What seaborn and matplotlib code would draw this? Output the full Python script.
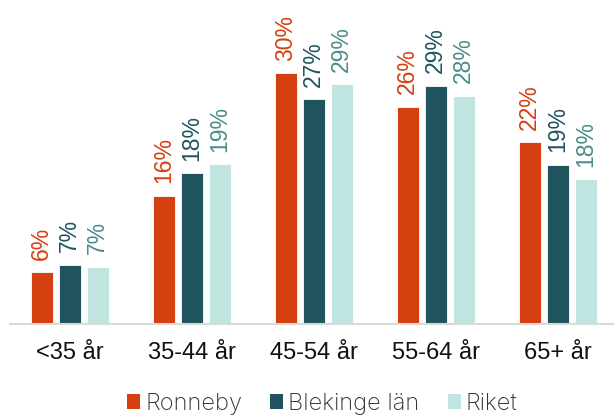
import pandas as pd
import matplotlib.pyplot as plt
import seaborn as sns
from matplotlib.patches import Patch

categories = ["<35 år", "35-44 år", "45-54 år", "55-64 år", "65+ år"]
series = ["Ronneby", "Blekinge län", "Riket"]
ronneby = [6.2, 15.4, 30.1, 26.1, 21.8]
blekinge = [7.1, 18.1, 27.0, 28.6, 19.1]
riket = [6.9, 19.2, 28.8, 27.4, 17.4]
labels_ronneby = ["6%", "16%", "30%", "26%", "22%"]
labels_blekinge = ["7%", "18%", "27%", "29%", "19%"]
labels_riket = ["7%", "19%", "29%", "28%", "18%"]

bar_colors = ["#d63f10", "#1f545e", "#c0e4e0"]
text_colors = ["#d63f10", "#1f545e", "#4a8b89"]

rows = []
for name, vals in zip(series, [ronneby, blekinge, riket]):
    for cat, v in zip(categories, vals):
        rows.append({"Ålder": cat, "Område": name, "Andel": v})
df = pd.DataFrame(rows)

sns.set_style("white")
plt.rcParams["font.family"] = ["Liberation Sans", "DejaVu Sans"]

fig = plt.figure(figsize=(6.14, 4.17), dpi=100)
ax = fig.add_axes([0.016, 0.223, 0.984, 0.777])

sns.barplot(data=df, x="Ålder", y="Andel", hue="Område", hue_order=series,
            palette=bar_colors, saturation=1, width=0.69, gap=0.22, ax=ax,
            edgecolor="white", linewidth=0.6, legend=False)

all_labels = [labels_ronneby, labels_blekinge, labels_riket]
for i, cont in enumerate(ax.containers):
    for bar, lab in zip(cont, all_labels[i]):
        x = bar.get_x() + bar.get_width() / 2
        ax.annotate(lab, (x, bar.get_height()), xytext=(0, 9),
                    textcoords="offset points", rotation=90,
                    ha="center", va="bottom", fontsize=16.5,
                    color=text_colors[i])

ax.set_xlim(-0.49, 4.46)
ax.set_ylim(0, 38.9)
ax.set_xlabel("")
ax.set_ylabel("")
ax.set_yticks([])
for s in ["top", "right", "left"]:
    ax.spines[s].set_visible(False)
ax.spines["bottom"].set_color("#d9d9d9")
ax.spines["bottom"].set_linewidth(1.5)
ax.tick_params(axis="x", length=0, pad=13, labelsize=17, labelcolor="#111111")

handles = [Patch(facecolor=c, edgecolor="none") for c in bar_colors]
fig.legend(handles, series, loc="lower center", bbox_to_anchor=(0.525, -0.046),
           ncol=3, frameon=False, handlelength=0.55,
           handleheight=0.55, handletextpad=0.2, columnspacing=1.2,
           prop={"family": ["Inter", "DejaVu Sans"], "size": 17, "weight": "light"},
           labelcolor="#333333")

fig.savefig("out.png", dpi=100)
